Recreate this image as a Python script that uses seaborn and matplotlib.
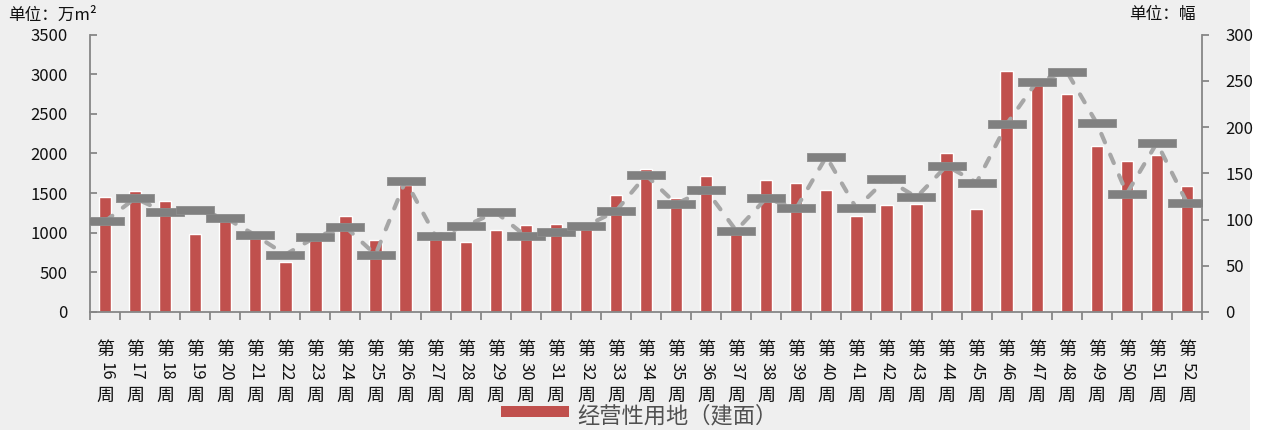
import numpy as np
import pandas as pd
import matplotlib
matplotlib.use("Agg")
import matplotlib.pyplot as plt
import matplotlib.transforms as mtransforms
from matplotlib.patches import Rectangle
import seaborn as sns

# Data
weeks = list(range(16, 53))
week_labels = [f"第{w}周" for w in weeks]
area = [1450, 1520, 1395, 985, 1170, 980, 630, 1000, 1215, 905,
        1600, 950, 880, 1035, 1095, 1105, 1080, 1475, 1800, 1435,
        1715, 1030, 1660, 1625, 1545, 1210, 1350, 1360, 2000, 1295,
        3040, 2900, 2750, 2090, 1910, 1980, 1590]
count = [98, 123, 108, 110, 102, 83, 62, 81, 92, 62,
         142, 82, 93, 108, 82, 86, 93, 109, 148, 117,
         132, 88, 123, 112, 168, 112, 144, 124, 158, 140,
         203, 249, 260, 204, 128, 183, 118]

BG = "#EFEFEF"
BAR = "#C0504D"
AXIS = "#868686"
CJK = ["Noto Sans CJK SC", "DejaVu Sans"]

sns.set_theme(style="white")
plt.rcParams["font.family"] = CJK
plt.rcParams["axes.unicode_minus"] = False

W, H = 1267, 430
fig = plt.figure(figsize=(W / 100, H / 100), dpi=100, facecolor=BG)
fig.patches.append(Rectangle((1250 / W, 0), 1 - 1250 / W, 1, transform=fig.transFigure,
                             facecolor="white", edgecolor="none", zorder=-1))

ax = fig.add_axes([90 / W, 1 - 312 / H, 1112 / W, 277.5 / H])
ax.set_facecolor(BG)

df = pd.DataFrame({"week": week_labels, "area": area, "count": count})
sns.barplot(data=df, x="week", y="area", color=BAR, width=0.41,
            saturation=1, ax=ax, zorder=2)

ax2 = ax.twinx()
# wide flat bar marker, about 39 x 9 px
rect_marker = [(-1, -0.22), (1, -0.22), (1, 0.22), (-1, 0.22), (-1, -0.22)]
ax2.plot(np.arange(len(weeks)), df["count"], color="#A6A6A6", linewidth=3,
         linestyle=(0, (2.2, 3.2)), dash_capstyle="round",
         marker=rect_marker, markersize=28, markerfacecolor="#808080",
         markeredgecolor="#8C8C8C", markeredgewidth=0.6, zorder=3)

ax.set_xlim(-0.5, len(weeks) - 0.5)
ax.set_ylim(0, 3500)
ax.set_yticks(np.arange(0, 3501, 500))
ax2.set_ylim(0, 300)
ax2.set_yticks(np.arange(0, 301, 50))
ax.set_xlabel("")
ax.set_ylabel("")
ax2.set_ylabel("")

for a in (ax, ax2):
    a.spines["top"].set_visible(False)
    for s in a.spines.values():
        s.set_color(AXIS)
        s.set_linewidth(1.3)
ax.spines["right"].set_visible(False)
ax2.spines["left"].set_visible(False)
ax2.spines["bottom"].set_visible(False)

ax.set_xticks(np.arange(-0.5, len(weeks), 1.0))
ax.set_xticklabels([])
ax.tick_params(axis="x", direction="out", length=6, width=1.3, color=AXIS, bottom=True)
ax.tick_params(axis="y", direction="in", length=5, width=1.3, color=AXIS, left=True,
               labelsize=12, pad=16, labelcolor="#111111")
ax2.tick_params(axis="y", direction="out", length=5, width=1.3, color=AXIS, right=True,
                labelsize=12, pad=12, labelcolor="#111111")
ax.grid(False)
ax2.grid(False)

# vertical week labels: 第 / rotated digits / 周
trans = mtransforms.blended_transform_factory(ax.transData, fig.transFigure)
for i, w in enumerate(weeks):
    ax.text(i, 1 - 350 / H, "第", transform=trans, ha="center", va="center",
            fontsize=13, color="#111111", family=CJK)
    ax.text(i + 0.02, 1 - 371 / H, str(w), transform=trans, ha="center", va="center",
            rotation=270, fontsize=12, color="#111111", family=CJK)
    ax.text(i, 1 - 396 / H, "周", transform=trans, ha="center", va="center",
            fontsize=13, color="#111111", family=CJK)

# unit labels
fig.text(8 / W, 1 - 15 / H, "单位：万m²", ha="left", va="center", fontsize=12,
         color="#111111", family=CJK)
fig.text(1196 / W, 1 - 15 / H, "单位：幅", ha="right", va="center", fontsize=12,
         color="#111111", family=CJK)

# legend (bar series)
fig.patches.append(Rectangle((501 / W, 1 - 417 / H), 68 / W, 11 / H,
                             transform=fig.transFigure, facecolor=BAR,
                             edgecolor="none", zorder=5))
fig.text(577 / W, 1 - 416 / H, "经营性用地（建面）", ha="left", va="center",
         fontsize=16, color="#505050", family=CJK, fontweight="light")

fig.savefig("out.png", dpi=100, facecolor=BG)
